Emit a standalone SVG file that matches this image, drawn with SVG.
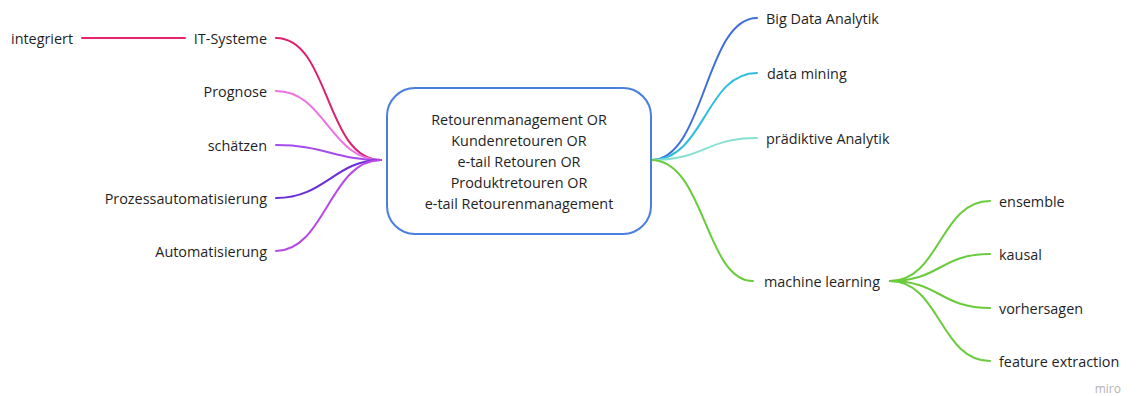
<svg xmlns="http://www.w3.org/2000/svg" width="1137" height="396" viewBox="0 0 1137 396">
<style>
text{font-family:"Open Sans","Noto Sans","Liberation Sans",sans-serif;font-size:14.4px;fill:#1f1f1f;dominant-baseline:central}
.l{text-anchor:end}
path{fill:none;stroke-width:2;stroke-linecap:round}
</style>
<rect width="1137" height="396" fill="#ffffff"/>
<g id="connectors">
<path d="M82,38 H185" stroke="#e8246e"/>
<path d="M381,160 C325,160 330,38 276,38" stroke="#dc1f6e"/>
<path d="M381,160 C330,160 325,91 276,91" stroke="#ea72e2"/>
<path d="M381,160 C335,160 325,145 276,145" stroke="#a64cea"/>
<path d="M381,160 C335,160 325,198 276,198" stroke="#6a2ed8"/>
<path d="M381,160 C330,160 325,251 276,251" stroke="#b949e6"/>
<path d="M651,160 C705,160 705,18 757,18" stroke="#3f6ddb"/>
<path d="M651,160 C705,160 705,73 757,73" stroke="#2fbde4"/>
<path d="M651,160 C705,160 705,138 757,138" stroke="#86e0d2"/>
<path d="M651,160 C705,160 705,281 753,281" stroke="#6acb3c"/>
<path d="M890,281 C940,281 940,201 990,201" stroke="#6acb3c"/>
<path d="M890,281 C940,281 940,254 990,254" stroke="#6acb3c"/>
<path d="M890,281 C940,281 940,308 990,308" stroke="#6acb3c"/>
<path d="M890,281 C940,281 940,361 990,361" stroke="#6acb3c"/>
</g>
<g id="center">
<rect x="387" y="88" width="264" height="146" rx="28" fill="#ffffff" stroke="#4a7fe0" stroke-width="2"/>
<text x="519" y="119" text-anchor="middle">Retourenmanagement OR</text>
<text x="519" y="140" text-anchor="middle">Kundenretouren OR</text>
<text x="519" y="161" text-anchor="middle">e-tail Retouren OR</text>
<text x="519" y="182" text-anchor="middle">Produktretouren OR</text>
<text x="519" y="203" text-anchor="middle">e-tail Retourenmanagement</text>
</g>
<g id="n-integriert"><text x="11" y="38">integriert</text></g>
<g id="n-it"><text class="l" x="267" y="38">IT-Systeme</text></g>
<g id="n-prognose"><text class="l" x="267" y="91">Prognose</text></g>
<g id="n-schaetzen"><text class="l" x="267" y="145">schätzen</text></g>
<g id="n-prozess"><text class="l" x="267" y="198">Prozessautomatisierung</text></g>
<g id="n-auto"><text class="l" x="267" y="251">Automatisierung</text></g>
<g id="n-bigdata"><text x="766" y="18">Big Data Analytik</text></g>
<g id="n-datamining"><text x="767" y="73">data mining</text></g>
<g id="n-praed"><text x="766" y="138">prädiktive Analytik</text></g>
<g id="n-ml"><text x="764" y="281">machine learning</text></g>
<g id="n-ensemble"><text x="999" y="201">ensemble</text></g>
<g id="n-kausal"><text x="999" y="254">kausal</text></g>
<g id="n-vorhersagen"><text x="999" y="308">vorhersagen</text></g>
<g id="n-feature"><text x="999" y="361">feature extraction</text></g>
<text x="1121" y="388" text-anchor="end" style="fill:#b4b4b4;font-size:12px">miro</text>
</svg>
